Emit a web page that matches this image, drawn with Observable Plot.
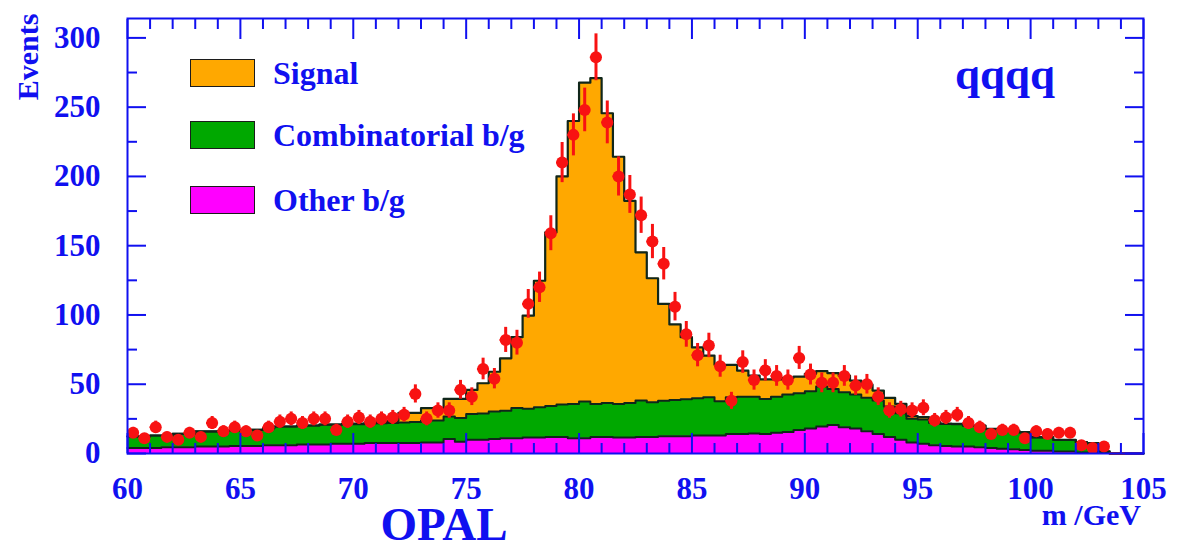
<!DOCTYPE html>
<html>
<head>
<meta charset="utf-8">
<script src="https://cdn.jsdelivr.net/npm/d3@7"></script>
<script src="https://cdn.jsdelivr.net/npm/@observablehq/plot@0.6"></script>
<style>
  body { margin: 0; background: #fff; }
  #wrap { position: relative; width: 1182px; height: 551px; overflow: hidden;
          font-family: "Liberation Serif", "Times New Roman", serif; font-weight: bold; color: #1010f0; }
  #wrap svg { position: absolute; left: 0; top: 0; }
  .lbl { position: absolute; white-space: nowrap; line-height: 0.7; }
  .sw { position: absolute; box-sizing: border-box; border: 1.5px solid #1c1c1c; }
</style>
</head>
<body>
<div id="wrap"></div>
<script>
// Dijet invariant mass, qqqq channel: 0.5 GeV bins from 60 to 105 GeV
const massStart = 60;
const binWidth = 0.5;

// Other background (bottom of the stack), events per bin
const otherBg = [4,4,4,4.5,4.5,4.5,5,5,5,5.5, 5.5,5.5,6,6,6,6.5,6.5,6.5,7,7,
  7,7.5,7.5,7.5,7.5,7.5,8,8,10.5,8.5, 10,10,10.5,11,11,11.5,11.5,12,12,11,
  11,12,12,11.5,11.5,12,12,12.5,12.5,12.5, 13,13,13,14,14,14.5,14,15,15.5,17,
  18,19.5,20.5,19,18,16,14,12,10,8, 7,6,5.5,5,5,4.5,4,3.5,3,2.5,
  2,2,1.5,1.5,0.8,0.5,0.3,0,0,0];

// Combinatorial background (middle of the stack)
const combBg = [8.3,8.3,9,8.5,9.7,9.7,10.9,10.9,11.3,11.1, 11.6,11.6,12.3,13.5,13.5,13.7,13.7,14.4,13.9,14.4,
  14.2,14.1,14.3,14.5,14.9,15.3,15.8,15.8,16.2,17.2, 18.6,18.8,19.8,19.9,21.9,20.8,21.9,22.2,23.4,24.8,
  26.5,23.8,24.5,24.3,25,26.2,25,25.5,26.2,26.7, 26.9,27.6,24.8,26.6,27,26.5,25.4,26,27,26.5,
  26.9,28.8,26.1,25.2,24.5,24.2,24.2,21.9,19,17, 17.5,16,15.8,16.2,15,15.5,13.6,13.9,13.3,12.7,
  9.6,9.6,8.3,8.3,7.3,6.9,1.1,0,0,0];

// W -> qq signal (top of the stack)
const signal = [0,0,0,0,0,0,0,0,0,0, 0,0,0,0,0,0,0,0,0,0,
  0.4,0.8,1,1.6,6.9,6.5,8.9,8.9,12.7,13.7, 17.3,21.9,28.7,37.8,51.1,67.2,91.3,125.4,164.6,204.2,
  230.2,235.1,209.1,178.4,145.9,107,89.5,70,54.5,44.8, 36.7,30.1,26.2,23.4,18.8,15.2,14.1,12.5,12.1,12,
  12.6,11.1,11.4,12,10.1,9.5,7.2,6.3,6.8,2, 1.7,0.6,0.3,0.2,0.2,0.2,0.2,0.2,0.2,0.2,
  0.2,0.2,0.1,0.1,0.1,0.1,0.1,0,0,0];

// Observed events per bin
const dataCounts = [15,11,19,12,10,15,12,22,16,19, 16,13,19,23,25,22,25,25,17,23,
  26,23,25,26,28,43,25,31,31,46, 41,61,54,82,80,108,120,159,210,230,
  248,286,239,200,187,172,153,137,106,86, 71,78,63,38,66,53,60,56,53,69,
  57,51,51,56,49,50,41,31,32,31, 33,24,26,28,22,19,14,17,17,11,
  16,14,15,15,6,4,5,0,0,0];

// Axis ticks and labels
const xMajor = [60, 65, 70, 75, 80, 85, 90, 95, 100, 105];
const xMinor = d3.range(61, 105).filter(v => v % 5 !== 0);
const yMajor = [0, 50, 100, 150, 200, 250, 300];
const yMinor = [25, 75, 125, 175, 225, 275];

const legendItems = [
  {label: "Signal", color: "#ffa800"},
  {label: "Combinatorial b/g", color: "#00a800"},
  {label: "Other b/g", color: "#ff00ff"}
];

const blue = "#1010f0";
const red = "#f81212";
const outline = "#10261a";

// Bins with stacked boundaries
const bins = otherBg.map((o, i) => {
  const x1 = massStart + i * binWidth;
  const y1 = o, y2 = o + combBg[i], y3 = o + combBg[i] + signal[i];
  return {x1, x2: x1 + binWidth, xc: x1 + binWidth / 2, y0: 0, y1, y2, y3, n: dataCounts[i]};
});
// Step vertices: left edge of each bin plus the final right edge
const steps = [...bins.map(b => ({...b, x: b.x1})), {...bins[bins.length - 1], x: bins[bins.length - 1].x2}];
const points = bins.filter(b => b.n > 0);

const chart = Plot.plot({
  width: 1182,
  height: 551,
  marginLeft: 127,
  marginRight: 39,
  marginTop: 18,
  marginBottom: 98,
  x: {domain: [60, 105]},
  y: {domain: [0, 314]},
  style: {fontFamily: "'Liberation Serif', 'Times New Roman', serif", fontWeight: "bold", background: "transparent"},
  marks: [
    // stacked histogram fills
    Plot.areaY(steps, {x: "x", y1: "y0", y2: "y1", curve: "step-after", fill: "#ff00ff"}),
    Plot.areaY(steps, {x: "x", y1: "y1", y2: "y2", curve: "step-after", fill: "#00a800"}),
    Plot.areaY(steps, {x: "x", y1: "y2", y2: "y3", curve: "step-after", fill: "#ffa800"}),
    // outlines of each stacked component
    Plot.lineY(steps, {x: "x", y: "y1", curve: "step-after", stroke: outline, strokeWidth: 2}),
    Plot.lineY(steps, {x: "x", y: "y2", curve: "step-after", stroke: outline, strokeWidth: 2}),
    Plot.lineY(steps, {x: "x", y: "y3", curve: "step-after", stroke: outline, strokeWidth: 2.2}),
    // data with statistical errors
    Plot.ruleY(bins, {x1: "x1", x2: "x2", y: "n", stroke: red, strokeWidth: 2}),
    Plot.ruleX(points, {x: "xc", y1: d => d.n - Math.sqrt(d.n), y2: d => d.n + Math.sqrt(d.n), stroke: red, strokeWidth: 3}),
    Plot.dot(points, {x: "xc", y: "n", r: 6, fill: red}),
    // frame and inward ticks on all four sides
    Plot.frame({stroke: blue, strokeWidth: 2}),
    Plot.axisX(xMajor, {anchor: "bottom", tickSize: 20, dy: -20, stroke: blue, strokeWidth: 2, fill: "none", label: null}),
    Plot.axisX(xMinor, {anchor: "bottom", tickSize: 10, dy: -10, stroke: blue, strokeWidth: 2, fill: "none", label: null}),
    Plot.axisX(xMajor, {anchor: "top", tickSize: 20, dy: 20, stroke: blue, strokeWidth: 2, fill: "none", label: null}),
    Plot.axisX(xMinor, {anchor: "top", tickSize: 10, dy: 10, stroke: blue, strokeWidth: 2, fill: "none", label: null}),
    Plot.axisY(yMajor, {anchor: "left", tickSize: 19, dx: 19, stroke: blue, strokeWidth: 2, fill: "none", label: null}),
    Plot.axisY(yMinor, {anchor: "left", tickSize: 10, dx: 10, stroke: blue, strokeWidth: 2, fill: "none", label: null}),
    Plot.axisY(yMajor, {anchor: "right", tickSize: 19, dx: -19, stroke: blue, strokeWidth: 2, fill: "none", label: null}),
    Plot.axisY(yMinor, {anchor: "right", tickSize: 10, dx: -10, stroke: blue, strokeWidth: 2, fill: "none", label: null}),
    // tick labels
    Plot.axisX(xMajor, {anchor: "bottom", tickSize: 0, tickPadding: 23, fontSize: 31, fontWeight: "bold", fill: blue, label: null}),
    Plot.axisY(yMajor, {anchor: "left", tickSize: 0, tickPadding: 27, fontSize: 31, fontWeight: "bold", fill: blue, label: null})
  ]
});

const wrap = document.getElementById("wrap");
wrap.appendChild(chart);

// Text placed by baseline: at line-height 0.7, Liberation Serif's baseline sits 0.6875em below the box top
function addText(text, x, baseline, size, align = "start") {
  const el = document.createElement("div");
  el.className = "lbl";
  el.textContent = text;
  el.style.fontSize = size + "px";
  el.style.top = (baseline - 0.6875 * size) + "px";
  el.style.left = x + "px";
  const tx = align === "middle" ? "-50%" : align === "end" ? "-100%" : "0";
  el.style.transform = `translateX(${tx})`;
  wrap.appendChild(el);
  return el;
}

// Legend swatches and labels
const legendTops = [59, 121, 186];
legendItems.forEach((d, i) => {
  const sw = document.createElement("div");
  sw.className = "sw";
  Object.assign(sw.style, {left: "190px", top: legendTops[i] + "px", width: "65px", height: "28px", background: d.color});
  wrap.appendChild(sw);
  addText(d.label, 273, legendTops[i] + 25, 32);
});

addText("qqqq", 1005, 90, 45, "middle");
addText("m /GeV", 1141, 525, 30, "end");
addText("OPAL", 444, 540, 47, "middle");

// Rotated y-axis title
const ev = document.createElement("div");
ev.className = "lbl";
ev.textContent = "Events";
Object.assign(ev.style, {fontSize: "30px", lineHeight: "1", left: "28px", top: "57px", transform: "translate(-50%, -50%) rotate(-90deg)"});
wrap.appendChild(ev);
</script>
</body>
</html>
